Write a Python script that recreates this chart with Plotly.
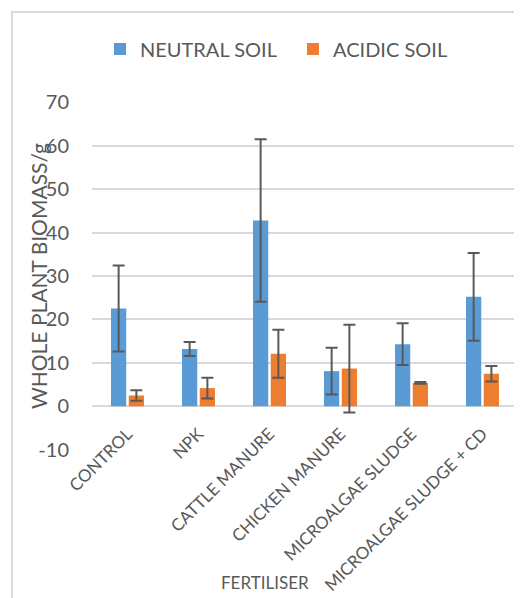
import plotly.graph_objects as go

categories = ["CONTROL", "NPK", "CATTLE MANURE", "CHICKEN MANURE",
              "MICROALGAE SLUDGE", "MICROALGAE SLUDGE + CD"]
neutral = [22.5, 13.2, 42.8, 8.1, 14.3, 25.2]
neutral_err = [9.9, 1.6, 18.7, 5.4, 4.8, 10.1]
acidic = [2.5, 4.2, 12.1, 8.7, 5.4, 7.5]
acidic_err = [1.2, 2.4, 5.5, 10.1, 0.2, 1.8]
y_ticks = [-10, 0, 10, 20, 30, 40, 50, 60, 70]
y_tick_labels = ["-10", "0", "10", "20", "30", "40", "50", "60", "70"]

# page body has an 8px margin; figure coordinates = page coordinates - 8
OFF = 8
W, H = 514, 590
L, R, T = 92 - OFF, 4, 102 - OFF
pw = W - L - R
ph = (450 - OFF) - T
B = H - T - ph

FONT = "Lato"
TXT = "#595959"
ERR = "#595959"
GRID = "#D9D9D9"
BORDER = "#D9D9D9"

fig = go.Figure()
fig.add_trace(go.Bar(
    name="NEUTRAL SOIL", x=categories, y=neutral,
    marker=dict(color="#5B9BD5"),
    error_y=dict(type="data", array=neutral_err, color=ERR, thickness=2, width=6),
))
fig.add_trace(go.Bar(
    name="ACIDIC SOIL", x=categories, y=acidic,
    marker=dict(color="#ED7D31"),
    error_y=dict(type="data", array=acidic_err, color=ERR, thickness=2, width=6),
))

fig.update_layout(
    template="none",
    width=W, height=H,
    margin=dict(l=L, r=R, t=T, b=B, autoexpand=False),
    paper_bgcolor="white", plot_bgcolor="white",
    barmode="group", bargap=0.5, bargroupgap=0.14,
    font=dict(family=FONT, color=TXT),
    showlegend=True,
    legend=dict(orientation="h", x=(100 - OFF - L) / pw, xanchor="left",
                y=1 + (T - (49 - OFF)) / ph, yanchor="middle",
                font=dict(size=20, color=TXT), itemwidth=30,
                entrywidth=148, entrywidthmode="pixels",
                bgcolor="rgba(0,0,0,0)"),
    xaxis=dict(anchor="free", position=0.125, showline=False,
               ticks="outside", ticklen=10, tickcolor="rgba(0,0,0,0)",
               tickangle=-45, tickfont=dict(size=17, color=TXT),
               showgrid=False, zeroline=False),
    yaxis=dict(range=[-10.05, 70.05], tickmode="array", tickvals=y_ticks,
               ticktext=y_tick_labels,
               showgrid=True, gridcolor=GRID, gridwidth=2,
               zeroline=True, zerolinecolor=GRID, zerolinewidth=2,
               showline=False,
               ticks="outside", ticklen=18, tickcolor="rgba(0,0,0,0)",
               tickfont=dict(size=20, color=TXT)),
)

fig.add_annotation(text="WHOLE PLANT BIOMASS/g", xref="paper", yref="paper",
                   x=(38 - OFF - L) / pw, y=0.5, xanchor="center", yanchor="middle",
                   textangle=-90, showarrow=False,
                   font=dict(size=21, color=TXT, family=FONT))
fig.add_annotation(text="FERTILISER", xref="paper", yref="paper",
                   x=(265 - OFF - L) / pw, y=-((582 - OFF) - (T + ph)) / ph,
                   xanchor="center", yanchor="middle", showarrow=False,
                   font=dict(size=17, color=TXT, family=FONT))
# chart-area border (top and left edges visible in the reference)
fig.add_shape(type="rect", xref="paper", yref="paper",
              x0=(12 - OFF - L) / pw, x1=1.2,
              y0=-1, y1=1 + (T - (12 - OFF)) / ph,
              line=dict(color=BORDER, width=2), fillcolor="rgba(0,0,0,0)",
              layer="below")

fig.write_html("out.html")
